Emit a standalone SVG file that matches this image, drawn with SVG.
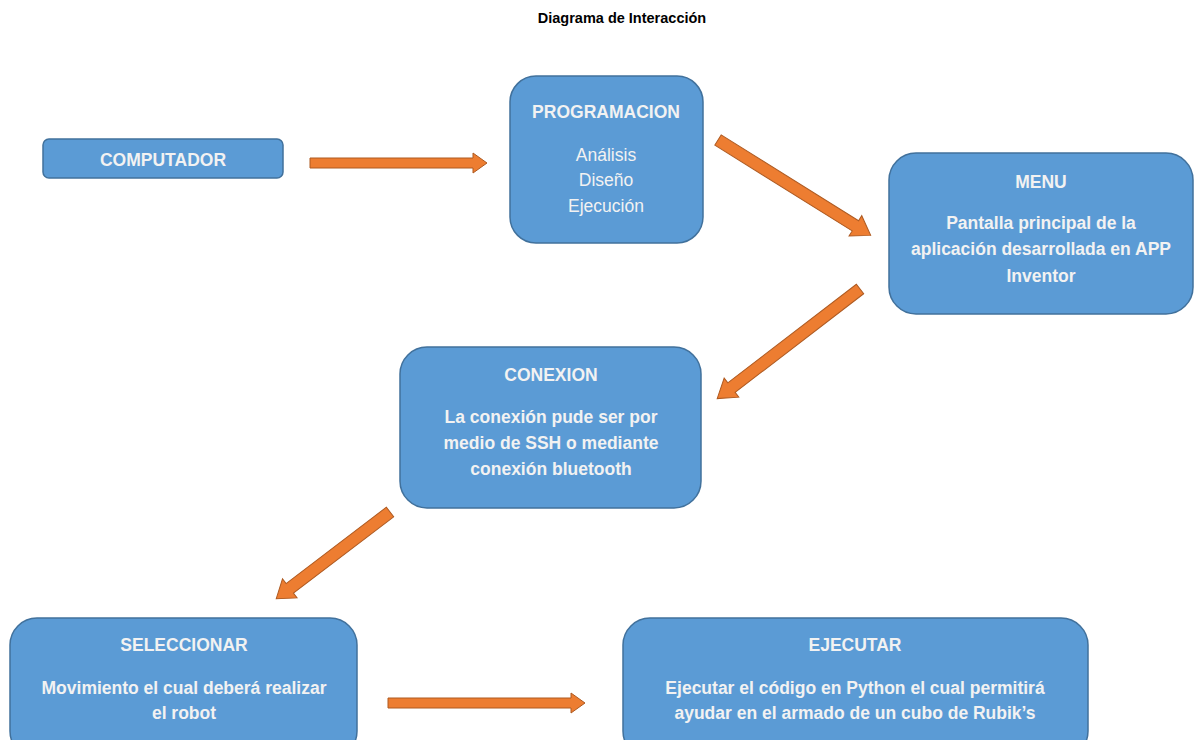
<svg xmlns="http://www.w3.org/2000/svg" width="1201" height="740" viewBox="0 0 1201 740">
<style>
.box{fill:#5B9BD5;stroke:#41719C;stroke-width:1.5}
.t{font-family:"Liberation Sans",Arial,sans-serif;fill:#F2F2F2;text-anchor:middle}
.b{font-weight:bold;font-size:17.5px}
.r{font-size:17.5px}
.arr{fill:#ED7D31;stroke:#AE5A21;stroke-width:1}
.title{font-family:"Liberation Sans",Arial,sans-serif;font-weight:bold;font-size:14.5px;fill:#000;text-anchor:middle}
</style>
<rect width="1201" height="740" fill="#fff"/>
<text class="title" x="622" y="23">Diagrama de Interacción</text>
<g id="connectors">
<path class="arr" transform="translate(310,163)" d="M0,-5 L163,-5 L163,-10 L177,0 L163,10 L163,5 L0,5 Z"/>
<path class="arr" transform="translate(718,140) rotate(32)" d="M0,-6 L162,-6 L162,-12 L180,0 L162,12 L162,6 L0,6 Z"/>
<path class="arr" transform="translate(860,289) rotate(142.5)" d="M0,-6 L162,-6 L162,-12 L180,0 L162,12 L162,6 L0,6 Z"/>
<path class="arr" transform="translate(390,512) rotate(142.7)" d="M0,-6 L126,-6 L126,-12 L143,0 L126,12 L126,6 L0,6 Z"/>
<path class="arr" transform="translate(388,703)" d="M0,-5 L183,-5 L183,-10 L197,0 L183,10 L183,5 L0,5 Z"/>
</g>
<g id="computador">
<rect class="box" x="43" y="139" width="240" height="39" rx="6"/>
<text class="t b" x="163" y="166">COMPUTADOR</text>
</g>
<g id="programacion">
<rect class="box" x="510" y="76" width="193" height="167" rx="26"/>
<text class="t b" x="606" y="118">PROGRAMACION</text>
<text class="t r" x="606" y="161">Análisis</text>
<text class="t r" x="606" y="186">Diseño</text>
<text class="t r" x="606" y="212">Ejecución</text>
</g>
<g id="menu">
<rect class="box" x="889" y="153" width="304" height="161" rx="27"/>
<text class="t b" x="1041" y="188">MENU</text>
<text class="t b" x="1041" y="229">Pantalla principal de la</text>
<text class="t b" x="1041" y="255">aplicación desarrollada en APP</text>
<text class="t b" x="1041" y="282">Inventor</text>
</g>
<g id="conexion">
<rect class="box" x="400" y="347" width="301" height="161" rx="27"/>
<text class="t b" x="551" y="381">CONEXION</text>
<text class="t b" x="551" y="423">La conexión pude ser por</text>
<text class="t b" x="551" y="449">medio de SSH o mediante</text>
<text class="t b" x="551" y="475">conexión bluetooth</text>
</g>
<g id="seleccionar">
<rect class="box" x="10" y="618" width="347" height="140" rx="27"/>
<text class="t b" x="184" y="651">SELECCIONAR</text>
<text class="t b" x="184" y="694">Movimiento el cual deberá realizar</text>
<text class="t b" x="184" y="719">el robot</text>
</g>
<g id="ejecutar">
<rect class="box" x="623" y="618" width="465" height="140" rx="27"/>
<text class="t b" x="855" y="651">EJECUTAR</text>
<text class="t b" x="855" y="694">Ejecutar el código en Python el cual permitirá</text>
<text class="t b" x="855" y="719">ayudar en el armado de un cubo de Rubik’s</text>
</g>
</svg>
